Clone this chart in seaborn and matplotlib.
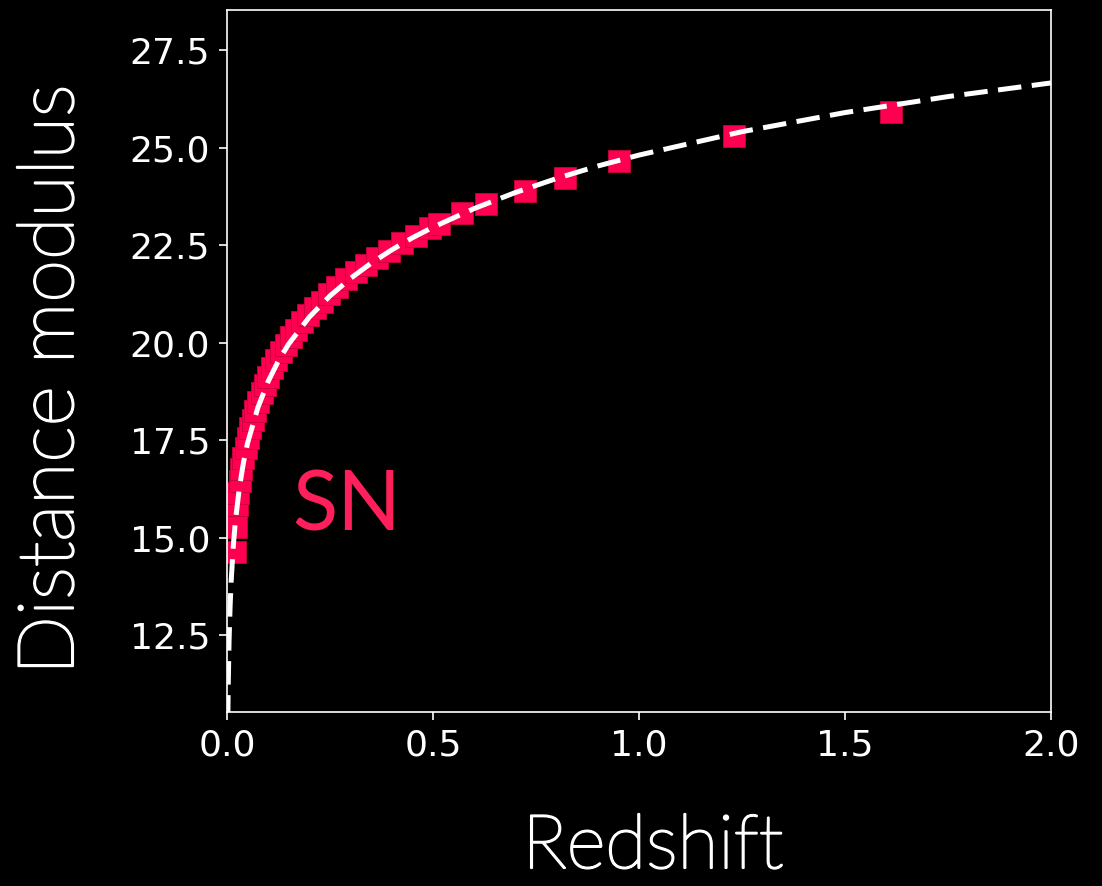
import matplotlib
matplotlib.use("Agg")
import matplotlib.pyplot as plt
import matplotlib.patheffects as pe
import seaborn as sns
import pandas as pd

# Supernova measurements: redshift and distance modulus
sn_redshift = [0.019, 0.021, 0.024, 0.027, 0.031, 0.035, 0.040, 0.045, 0.050,
               0.056, 0.062, 0.069, 0.076, 0.084, 0.092, 0.100, 0.110, 0.120,
               0.131, 0.143, 0.155, 0.168, 0.182, 0.197, 0.213, 0.230, 0.248,
               0.268, 0.290, 0.313, 0.338, 0.365, 0.394, 0.425, 0.458, 0.493,
               0.515, 0.570, 0.629, 0.723, 0.820, 0.951, 1.231, 1.612]
sn_mu = [14.62, 15.28, 15.85, 16.15, 16.45, 16.75, 17.05, 17.30, 17.55,
         17.80, 18.02, 18.25, 18.48, 18.72, 18.92, 19.12, 19.35, 19.55,
         19.75, 19.95, 20.15, 20.33, 20.52, 20.70, 20.88, 21.05, 21.24,
         21.42, 21.62, 21.80, 21.99, 22.17, 22.36, 22.55, 22.74, 22.93,
         23.04, 23.33, 23.55, 23.88, 24.22, 24.65, 25.30, 25.91]

# Model curve
model_redshift = [0.002, 0.003, 0.005, 0.0075, 0.01, 0.015, 0.02, 0.03, 0.04,
                  0.05, 0.075, 0.1, 0.125, 0.15, 0.2, 0.25, 0.3, 0.35, 0.4,
                  0.45, 0.5, 0.6, 0.7, 0.8, 0.9, 1.0, 1.25, 1.5, 1.75, 2.0]
model_mu = [10.36, 11.24, 12.36, 13.24, 13.87, 14.75, 15.39, 16.28, 16.93,
            17.43, 18.34, 19.01, 19.54, 19.97, 20.66, 21.20, 21.65, 22.04, 22.38,
            22.69, 22.96, 23.44, 23.85, 24.21, 24.53, 24.81, 25.41, 25.90, 26.31, 26.66]

x_ticks = [0.0, 0.5, 1.0, 1.5, 2.0]
y_ticks = [12.5, 15.0, 17.5, 20.0, 22.5, 25.0, 27.5]

sn_df = pd.DataFrame({"Redshift": sn_redshift, "Distance modulus": sn_mu})
model_df = pd.DataFrame({"Redshift": model_redshift, "Distance modulus": model_mu})

sns.set_theme(style="dark")
plt.rcParams.update({
    "figure.facecolor": "black",
    "axes.facecolor": "black",
    "axes.edgecolor": "white",
    "axes.linewidth": 1.2,
    "text.color": "white",
    "xtick.color": "white",
    "ytick.color": "white",
    "axes.grid": False,
})
plt.rcParams["font.family"] = ["DejaVu Sans"]

fig = plt.figure(figsize=(11.02, 8.86), dpi=100)
ax = fig.add_axes([0.206, 0.1964, 0.7477, 0.7923])

pink = "#ff0050"
sns.scatterplot(data=sn_df, x="Redshift", y="Distance modulus", ax=ax,
                marker="s", s=250, color=pink, edgecolor="#c8003c",
                linewidth=0.6, zorder=2)
sns.lineplot(data=model_df, x="Redshift", y="Distance modulus", ax=ax,
             color="white", linewidth=3.6, estimator=None, sort=False, zorder=3)
ax.lines[-1].set_dashes((4.7, 2.1))

ax.set_xlim(0, 2.0)
ax.set_ylim(10.53, 28.53)
ax.set_xticks(x_ticks)
ax.set_yticks(y_ticks)
ax.tick_params(axis="both", which="major", direction="out", length=6, width=1.2,
               pad=6, labelsize=26, colors="white", bottom=True, left=True)

# Light geometric face, thickened slightly with a matching stroke
label_font = dict(family=["Lato", "DejaVu Sans"], weight="light", color="white")
thicken = [pe.withStroke(linewidth=1.6, foreground="white")]
xl = ax.set_xlabel("Redshift", size=54, **label_font)
yl = ax.set_ylabel("Distance modulus", size=56, **label_font)
xl.set_path_effects(thicken)
yl.set_path_effects(thicken)
ax.xaxis.set_label_coords(0.517, -0.146)
ax.yaxis.set_label_coords(-0.170, 0.473)

ax.text(0.158, 15.19, "SN", color="#ff1f5a", fontsize=60,
        family=["Lato", "DejaVu Sans"], ha="left", va="baseline")

for side in ["top", "right", "bottom", "left"]:
    ax.spines[side].set_color("white")
    ax.spines[side].set_visible(True)

fig.savefig("out.png", dpi=100, facecolor="black")
